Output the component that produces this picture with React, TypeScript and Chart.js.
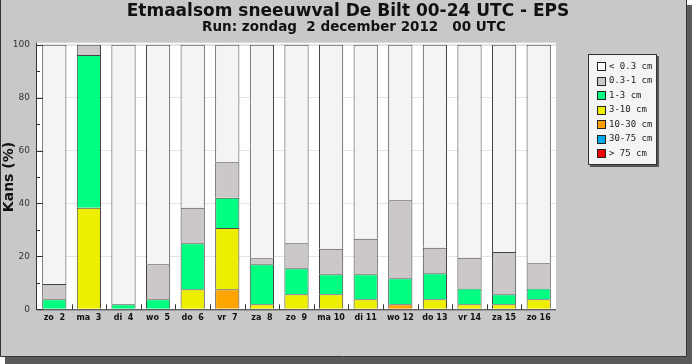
import React, { useEffect, useRef } from "react";
import { Chart, registerables } from "chart.js";

Chart.register(...registerables);

const categories = ["zo  2", "ma  3", "di  4", "wo  5", "do  6", "vr  7", "za  8", "zo  9", "ma 10", "di 11", "wo 12", "do 13", "vr 14", "za 15", "zo 16"];

// segment percentages (stacked bottom -> top)
const over75 = [0, 0, 0, 0, 0, 0, 0, 0, 0, 0, 0, 0, 0, 0, 0];
const cm30to75 = [0, 0, 0, 0, 0, 0, 0, 0, 0, 0, 0, 0, 0, 0, 0];
const cm10to30 = [0, 0, 0, 0, 0, 7.6, 0, 0, 0, 0, 1.9, 0, 0, 0, 0];
const cm3to10 = [0, 38.4, 0, 0, 7.6, 23.1, 1.9, 5.7, 5.7, 3.8, 0, 3.8, 1.9, 1.9, 3.8];
const cm1to3 = [3.8, 57.7, 1.9, 3.8, 17.4, 11.5, 15.1, 9.8, 7.5, 9.4, 9.8, 9.8, 6.0, 3.8, 4.1];
const cm03to1 = [5.8, 3.9, 0, 13.2, 13.4, 13.4, 2.3, 9.5, 9.7, 13.5, 29.5, 9.7, 11.6, 16.0, 9.5];
const under03 = [90.4, 0, 98.1, 83.0, 61.6, 44.4, 80.7, 75.0, 77.1, 73.3, 58.8, 76.7, 80.5, 78.3, 82.6];

const yTicks = [0, 20, 40, 60, 80, 100];
const yMinorTicks = [10, 30, 50, 70, 90];

const legendLabels = ["< 0.3 cm", "0.3-1 cm", "1-3 cm", "3-10 cm", "10-30 cm", "30-75 cm", "> 75 cm"];
const legendColors = ["#ffffff", "#ccc8c8", "#00ff80", "#eeee00", "#ffa000", "#00aaee", "#ee0000"];
const barColors = ["#f4f4f4", "#ccc8c8", "#00ff80", "#eeee00", "#ffa500", "#00aaee", "#ee0000"];

const titleText = "Etmaalsom sneeuwval De Bilt 00-24 UTC - EPS";
const subtitleText = "Run: zondag  2 december 2012   00 UTC";
const yAxisTitle = "Kans (%)";

const W = 692;
const H = 364;

const decorPlugin = {
  id: "decor",
  beforeDraw(chart: any) {
    const { ctx, chartArea: a } = chart;
    ctx.save();
    ctx.fillStyle = "#ffffff";
    ctx.fillRect(0, 0, W, H);
    ctx.fillStyle = "#5a5a5a";
    ctx.fillRect(5, 5, W - 5, H - 5);
    ctx.fillStyle = "#c8c8c8";
    ctx.fillRect(0, 0, 687, 357);
    ctx.strokeStyle = "#333333";
    ctx.lineWidth = 1;
    ctx.beginPath();
    ctx.moveTo(0.5, 0);
    ctx.lineTo(0.5, 356.5);
    ctx.lineTo(686.5, 356.5);
    ctx.lineTo(686.5, 0);
    ctx.stroke();
    // plot background
    ctx.fillStyle = "#ffffff";
    ctx.fillRect(a.left, a.top - 2, a.right - a.left, a.bottom - a.top + 2);
    ctx.restore();
  },
  beforeDatasetsDraw(chart: any) {
    const { ctx, chartArea: a, scales } = chart;
    const y = scales.y;
    const x = scales.x;
    ctx.save();
    ctx.strokeStyle = "#333333";
    ctx.lineWidth = 1;
    ctx.beginPath();
    yTicks.forEach((v) => {
      const py = Math.round(y.getPixelForValue(v)) + 0.5;
      ctx.moveTo(a.left, py);
      ctx.lineTo(a.left + 6, py);
    });
    yMinorTicks.forEach((v) => {
      const py = Math.round(y.getPixelForValue(v)) + 0.5;
      ctx.moveTo(a.left, py);
      ctx.lineTo(a.left + 3, py);
    });
    const n = categories.length;
    const step = (a.right - a.left) / n;
    for (let i = 1; i < n; i++) {
      const px = Math.round(x.left + step * i) + 0.5;
      ctx.moveTo(px, a.bottom);
      ctx.lineTo(px, a.bottom - 5);
    }
    ctx.stroke();
    ctx.restore();
  },
  afterDatasetsDraw(chart: any) {
    const { ctx, chartArea: a } = chart;
    ctx.save();
    ctx.strokeStyle = "#333333";
    ctx.lineWidth = 1;
    ctx.beginPath();
    ctx.moveTo(a.left - 0.5, a.top - 2);
    ctx.lineTo(a.left - 0.5, a.bottom + 0.5);
    ctx.lineTo(a.right, a.bottom + 0.5);
    ctx.stroke();

    // titles
    ctx.fillStyle = "#111111";
    ctx.textAlign = "center";
    ctx.textBaseline = "middle";
    ctx.font = "bold 17px 'DejaVu Sans'";
    ctx.fillText(titleText, 348, 12);
    ctx.font = "bold 13.5px 'DejaVu Sans'";
    ctx.fillText(subtitleText, 354, 27);

    // y axis title
    ctx.save();
    ctx.translate(9, (a.top + a.bottom) / 2);
    ctx.rotate(-Math.PI / 2);
    ctx.font = "bold 14px 'DejaVu Sans'";
    ctx.fillText(yAxisTitle, 0, 0);
    ctx.restore();

    // legend box
    const lx = 588, ly = 54, lw = 69, lh = 111;
    ctx.fillStyle = "#555555";
    ctx.fillRect(lx + 2, ly + 2, lw, lh);
    ctx.fillStyle = "#f4f4f4";
    ctx.fillRect(lx, ly, lw, lh);
    ctx.strokeStyle = "#333333";
    ctx.strokeRect(lx + 0.5, ly + 0.5, lw - 1, lh - 1);
    ctx.font = "9px 'DejaVu Sans Mono'";
    ctx.textAlign = "left";
    ctx.textBaseline = "middle";
    legendLabels.forEach((lab, i) => {
      const cy = 66 + i * 14.5;
      ctx.fillStyle = legendColors[i];
      ctx.fillRect(597.5, Math.round(cy - 4) + 0.5, 8, 8);
      ctx.strokeStyle = "#222222";
      ctx.strokeRect(597.5, Math.round(cy - 4) + 0.5, 8, 8);
      ctx.fillStyle = "#222222";
      ctx.fillText(lab, 609, cy + 0.5);
    });
    ctx.restore();
  },
};

export default function App() {
  const ref = useRef<HTMLCanvasElement>(null);
  useEffect(() => {
    const seriesValues = [over75, cm30to75, cm10to30, cm3to10, cm1to3, cm03to1, under03];
    const seriesIdx = [6, 5, 4, 3, 2, 1, 0];
    const datasets = seriesValues.map((vals, k) => {
      const li = seriesIdx[k];
      return {
        label: legendLabels[li],
        data: vals.map((v) => (v === 0 ? null : v)),
        backgroundColor: barColors[li],
        borderColor: "#444444",
        borderWidth: 1,
        barPercentage: 0.7,
        categoryPercentage: 1.0,
      };
    });
    const chart = new Chart(ref.current as HTMLCanvasElement, {
      type: "bar",
      data: { labels: categories, datasets },
      plugins: [decorPlugin],
      options: {
        responsive: false,
        devicePixelRatio: 1,
        animation: false,
        layout: { padding: { left: 0, top: 44.7, right: 136, bottom: 0 } },
        plugins: {
          legend: { display: false },
          title: { display: false },
          tooltip: { enabled: false },
        },
        scales: {
          x: {
            stacked: true,
            grid: { display: false, drawTicks: false },
            border: { display: false },
            ticks: {
              autoSkip: false,
              maxRotation: 0,
              minRotation: 0,
              padding: 4,
              color: "#111111",
              font: { family: "'DejaVu Sans'", size: 8, weight: "bold" },
            },
            afterFit: (s: any) => {
              s.height = 54.7;
            },
          },
          y: {
            stacked: true,
            min: 0,
            max: 100,
            afterBuildTicks: (s: any) => {
              s.ticks = yTicks.map((v) => ({ value: v }));
            },
            grid: {
              drawTicks: false,
              color: (c: any) => (c.tick && c.tick.value === 0 ? "rgba(0,0,0,0)" : "#e4e4e4"),
              lineWidth: (c: any) => (c.tick && c.tick.value === 100 ? 2 : 1),
            },
            border: { display: false },
            ticks: {
              padding: 7,
              color: "#333333",
              font: { family: "'DejaVu Sans'", size: 9 },
            },
            afterFit: (s: any) => {
              s.width = 37;
            },
          },
        },
      } as any,
    });
    return () => chart.destroy();
  }, []);
  return (
    <div style={{ position: "absolute", left: 0, top: 0, width: W, height: H }}>
      <canvas ref={ref} width={W} height={H} style={{ display: "block", width: W, height: H }} />
    </div>
  );
}
